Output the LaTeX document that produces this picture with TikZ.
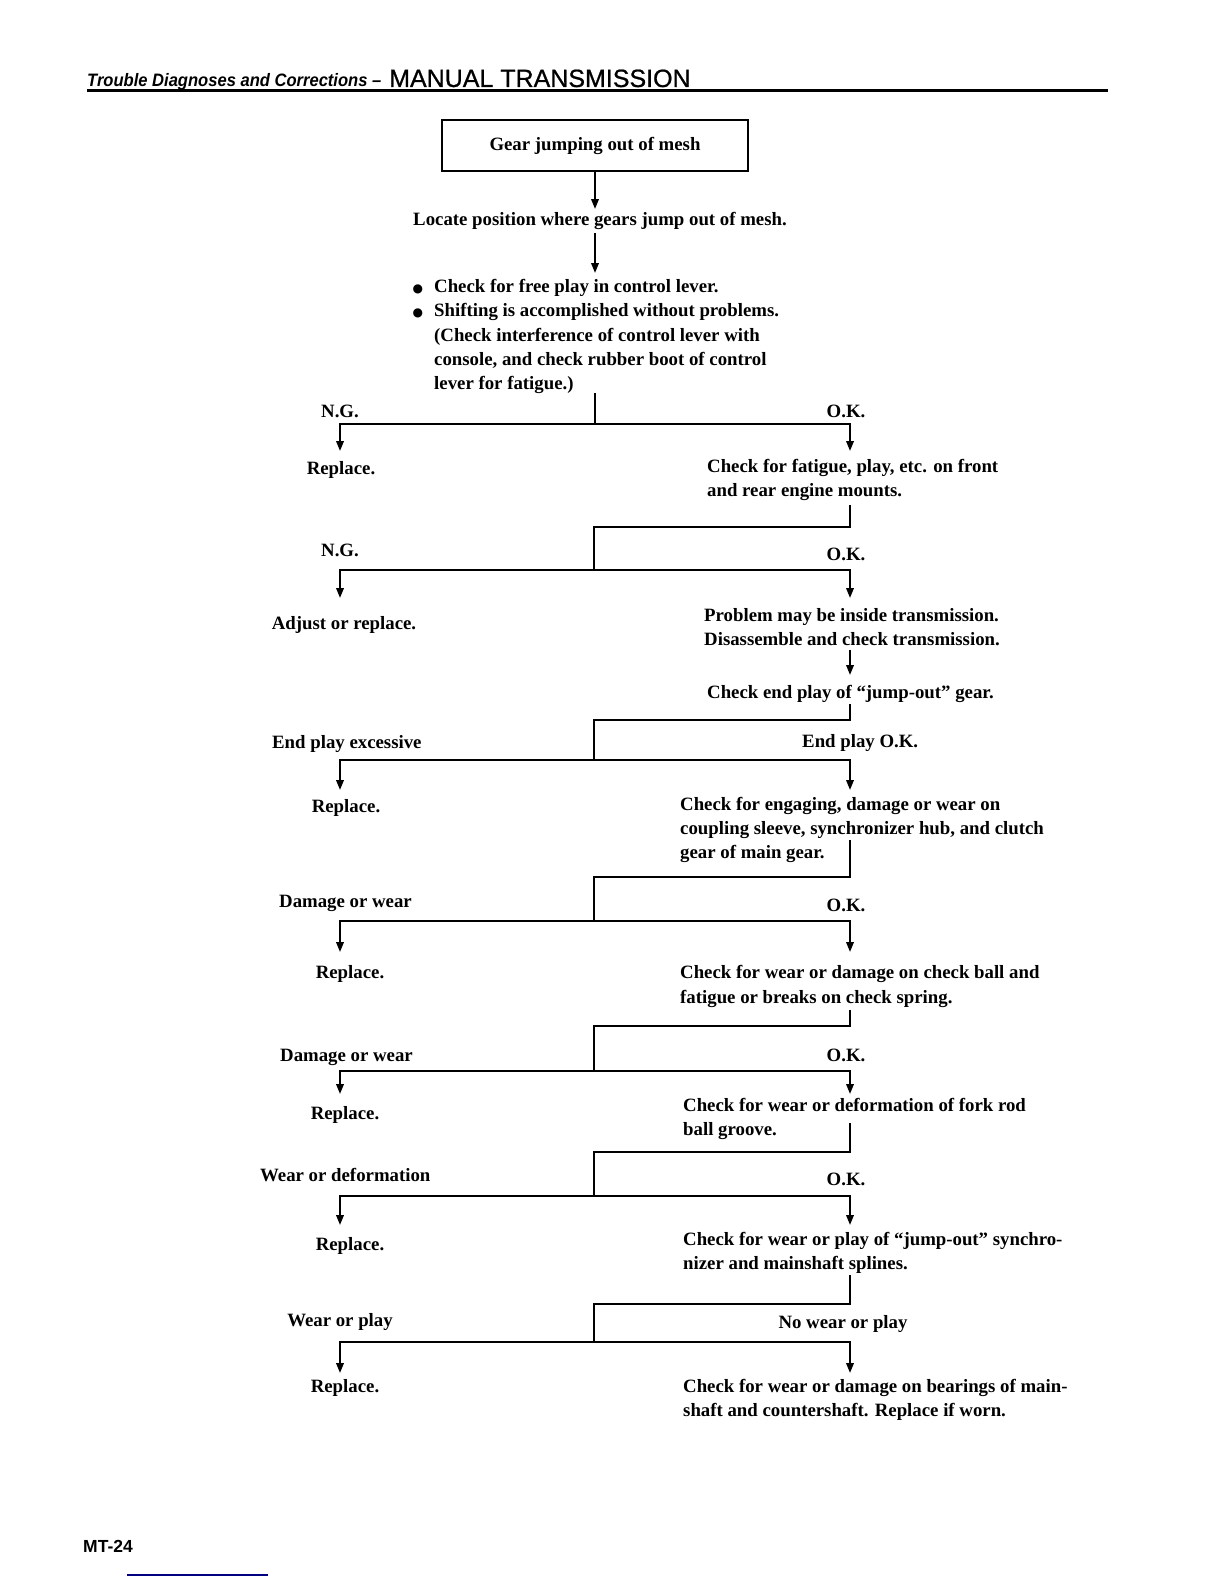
\documentclass[tikz,border=0pt]{standalone}
\usepackage{fontspec}
\usepackage{graphicx}
\setmainfont{Liberation Serif}
\newfontfamily\hsans{Liberation Sans}
\newfontfamily\hsansm{Liberation Sans}[FakeBold=0.8]
\newfontfamily\dejavu{DejaVu Sans}
\usetikzlibrary{arrows.meta}
\newcommand{\mainsz}{\bfseries\fontsize{18.8}{24.2}\selectfont}
\newcommand{\bul}{\llap{{\dejavu\fontsize{12}{12}\selectfont ●}\hspace{11pt}}}
\tikzset{
  txt/.style={inner sep=0pt, font=\mainsz, text height=13pt, text depth=4.5pt, yshift=-2pt},
  mtxt/.style={inner sep=0pt, font=\mainsz, align=left, anchor=west, yshift=-2pt},
  conn/.style={line width=2pt},
  arr/.style={line width=2pt, -{Triangle[width=7.5pt,length=10pt]}},
}
\begin{document}
\begin{tikzpicture}[x=1pt,y=-1pt]
\useasboundingbox (0,0) rectangle (1224,1584);
% header
\node[anchor=base west, inner sep=0pt, font=\hsans\bfseries\itshape\fontsize{18}{20}\selectfont] (hdrA) at (87,87) {\scalebox{0.92}[1]{Trouble Diagnoses and Corrections –}};
\node[anchor=base west, inner sep=0pt, font=\hsansm\fontsize{25}{28}\selectfont] (hdrB) at (389,87) {MANUAL TRANSMISSION};
\coordinate (ruleL) at (87,91);
\coordinate (ruleR) at (1108,91);
\draw[line width=3pt] (ruleL) -- (ruleR);

% start box
\node[draw, line width=2.5pt, minimum width=306pt, minimum height=51pt, inner sep=0pt, font=\mainsz] (start) at (595,145.5) {Gear jumping out of mesh};
\node[txt] (locate) at (600,219) {Locate position where gears jump out of mesh.};
\coordinate (a1) at (595,209);
\draw[arr] (start.south) -- (a1);
\coordinate (a2s) at (595,233);
\coordinate (a2) at (595,273);
\draw[arr] (a2s) -- (a2);
\node[mtxt] (checks) at (434,334.5) {\bul Check for free play in control lever.\\
\bul Shifting is accomplished without problems.\\
(Check interference of control lever with\\
console, and check rubber boot of control\\
lever for fatigue.)};

% junction 1
\coordinate (t1) at (595,393);
\coordinate (c1) at (595,424);
\coordinate (L1) at (340,451);
\coordinate (R1) at (850,451);
\draw[conn] (t1) -- (c1);
\draw[arr] (c1) -| (L1);
\draw[arr] (c1) -| (R1);
\node[txt] (ng1) at (340,411) {N.G.};
\node[txt] (ok1) at (846,411) {O.K.};
\node[txt] (rep1) at (341,468) {Replace.};
\node[mtxt] (mounts) at (707,478) {Check for fatigue, play, etc. on front\\and rear engine mounts.};

% junction 2
\coordinate (t2) at (850,505);
\coordinate (m2) at (594,527);
\coordinate (c2) at (594,570);
\coordinate (L2) at (340,598);
\coordinate (R2) at (850,598);
\draw[conn] (t2) |- (m2) -- (c2);
\draw[arr] (c2) -| (L2);
\draw[arr] (c2) -| (R2);
\node[txt] (ng2) at (340,550) {N.G.};
\node[txt] (ok2) at (846,554) {O.K.};
\node[txt] (adj) at (344,623) {Adjust or replace.};
\node[mtxt] (inside) at (704,625) {Problem may be inside transmission.\\Disassemble and check transmission.};
\coordinate (a3s) at (850,650);
\coordinate (a3) at (850,675);
\draw[arr] (a3s) -- (a3);
\node[mtxt] (endplay) at (707,692) {Check end play of “jump-out” gear.};

% junction 3
\coordinate (t3) at (850,704);
\coordinate (m3) at (594,720);
\coordinate (c3) at (594,760);
\coordinate (L3) at (340,790);
\coordinate (R3) at (850,790);
\draw[conn] (t3) |- (m3) -- (c3);
\draw[arr] (c3) -| (L3);
\draw[arr] (c3) -| (R3);
\node[txt, anchor=west] (epx) at (272,742) {End play excessive};
\node[txt, anchor=west] (epok) at (802,741) {End play O.K.};
\node[txt] (rep3) at (346,806) {Replace.};
\node[mtxt] (engage) at (680,828) {Check for engaging, damage or wear on\\coupling sleeve, synchronizer hub, and clutch\\gear of main gear.};

% junction 4
\coordinate (t4) at (850,840);
\coordinate (m4) at (594,877);
\coordinate (c4) at (594,921);
\coordinate (L4) at (340,952);
\coordinate (R4) at (850,952);
\draw[conn] (t4) |- (m4) -- (c4);
\draw[arr] (c4) -| (L4);
\draw[arr] (c4) -| (R4);
\node[txt, anchor=west] (dw4) at (279,901) {Damage or wear};
\node[txt] (ok4) at (846,905) {O.K.};
\node[txt] (rep4) at (350,972) {Replace.};
\node[mtxt] (ball) at (680,984.5) {Check for wear or damage on check ball and\\fatigue or breaks on check spring.};

% junction 5
\coordinate (t5) at (850,1010);
\coordinate (m5) at (594,1026);
\coordinate (c5) at (594,1071);
\coordinate (L5) at (340,1094);
\coordinate (R5) at (850,1094);
\draw[conn] (t5) |- (m5) -- (c5);
\draw[arr] (c5) -| (L5);
\draw[arr] (c5) -| (R5);
\node[txt, anchor=west] (dw5) at (280,1055) {Damage or wear};
\node[txt] (ok5) at (846,1055) {O.K.};
\node[txt] (rep5) at (345,1113) {Replace.};
\node[mtxt] (fork) at (683,1117) {Check for wear or deformation of fork rod\\ball groove.};

% junction 6
\coordinate (t6) at (850,1123);
\coordinate (m6) at (594,1152);
\coordinate (c6) at (594,1196);
\coordinate (L6) at (340,1225);
\coordinate (R6) at (850,1225);
\draw[conn] (t6) |- (m6) -- (c6);
\draw[arr] (c6) -| (L6);
\draw[arr] (c6) -| (R6);
\node[txt, anchor=west] (wd6) at (260,1175) {Wear or deformation};
\node[txt] (ok6) at (846,1179) {O.K.};
\node[txt] (rep6) at (350,1244) {Replace.};
\node[mtxt] (synchro) at (683,1250.5) {Check for wear or play of “jump-out” synchro-\\nizer and mainshaft splines.};

% junction 7
\coordinate (t7) at (850,1275);
\coordinate (m7) at (594,1304);
\coordinate (c7) at (594,1342);
\coordinate (L7) at (340,1373);
\coordinate (R7) at (850,1373);
\draw[conn] (t7) |- (m7) -- (c7);
\draw[arr] (c7) -| (L7);
\draw[arr] (c7) -| (R7);
\node[txt] (wp7) at (340,1320) {Wear or play};
\node[txt] (nwp7) at (843,1322) {No wear or play};
\node[txt] (rep7) at (345,1386) {Replace.};
\node[mtxt] (bearings) at (683,1397.5) {Check for wear or damage on bearings of main-\\shaft and countershaft. Replace if worn.};

% footer
\node[anchor=west, inner sep=0pt, font=\hsans\bfseries\fontsize{17.5}{20}\selectfont] (page) at (83,1546) {MT-24};
\coordinate (blL) at (127,1575);
\coordinate (blR) at (268,1575);
\draw[line width=1.5pt, blue!50!black] (blL) -- (blR);
\end{tikzpicture}
\end{document}
